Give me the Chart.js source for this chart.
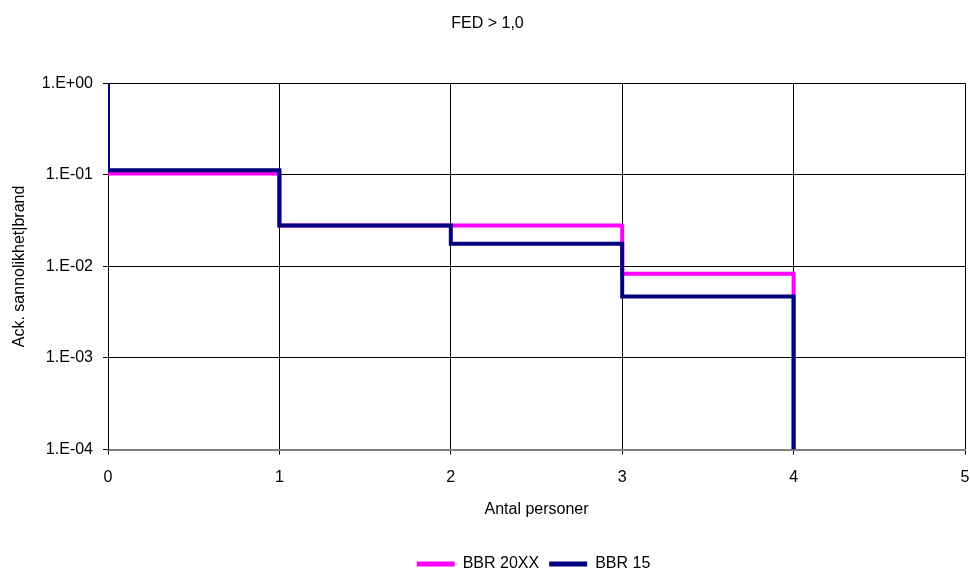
<!DOCTYPE html>
<html>
<head>
<meta charset="utf-8">
<script src="https://cdn.jsdelivr.net/npm/chart.js@4/dist/chart.umd.min.js"></script>
<style>
  html, body { margin: 0; padding: 0; background: #ffffff; }
  #wrap { width: 970px; height: 573px; }
</style>
</head>
<body>
<div id="wrap"><canvas id="c" width="970" height="573"></canvas></div>
<script>
// Persons at each step corner (stepped 'after': drop first, then run right)
const persons = [0, 1, 2, 3, 4, 4];
// Cumulative probability given fire, per rule set
const bbr20xx = [1, 0.103, 0.028, 0.028, 0.0083, 0.0001];
const bbr15   = [1, 0.112, 0.028, 0.0177, 0.0047, 0.0001];
const yTickValues = [1, 0.1, 0.01, 0.001, 0.0001];
const yTickLabels = ['1.E+00', '1.E-01', '1.E-02', '1.E-03', '1.E-04'];

const toPoints = (vals) => persons.map((p, i) => ({ x: p, y: vals[i] }));

const font = { family: '"Liberation Sans", Arial, sans-serif', size: 16 };

// Place the legend row under the middle of the plot area, near the bottom edge
const legendShift = {
  id: 'legendShift',
  afterLayout(chart) {
    const lg = chart.legend;
    const ca = chart.chartArea;
    if (!lg) return;
    const dy = 9;
    const dx = (ca.left + ca.right) / 2 - (lg.left + lg.right) / 2 - 3;
    lg.top += dy; lg.bottom += dy;
    lg.left += dx; lg.right += dx;
  }
};

new Chart(document.getElementById('c'), {
  type: 'line',
  plugins: [legendShift],
  data: {
    datasets: [
      {
        label: 'BBR 15',
        data: toPoints(bbr15),
        borderColor: '#000080',
        backgroundColor: '#000080',
        borderWidth: 4,
        stepped: 'after',
        pointRadius: 0,
        fill: false
      },
      {
        label: 'BBR 20XX',
        data: toPoints(bbr20xx),
        borderColor: '#ff00ff',
        backgroundColor: '#ff00ff',
        borderWidth: 4,
        stepped: 'after',
        pointRadius: 0,
        fill: false
      }
    ]
  },
  options: {
    responsive: false,
    animation: false,
    layout: { padding: { left: 10, right: 5, top: 0, bottom: 0 } },
    plugins: {
      tooltip: { enabled: false },
      title: {
        display: true,
        text: 'FED > 1,0',
        color: '#000',
        font: { ...font, weight: 'normal' },
        padding: { top: 14, bottom: 50 }
      },
      legend: {
        position: 'bottom',
        reverse: true,
        labels: {
          color: '#000',
          font: font,
          boxWidth: 38,
          boxHeight: 5,
          padding: 10,
          generateLabels: (chart) =>
            Chart.defaults.plugins.legend.labels.generateLabels(chart)
              .map(item => ({ ...item, lineWidth: 0 }))
        }
      }
    },
    scales: {
      x: {
        type: 'linear',
        min: 0,
        max: 5,
        afterFit: (scale) => { scale.paddingRight = 0; },
        ticks: { stepSize: 1, color: '#000', font: font, padding: 13 },
        grid: { color: '#000', lineWidth: 1, tickLength: 5, tickColor: '#000' },
        border: { color: '#808080', width: 2 },
        title: {
          display: true,
          text: 'Antal personer',
          color: '#000',
          font: font,
          padding: { top: 0, bottom: 18 }
        }
      },
      y: {
        type: 'logarithmic',
        min: 0.0001,
        max: 1,
        afterBuildTicks: (scale) => {
          scale.ticks = yTickValues.map(v => ({ value: v }));
        },
        afterFit: (scale) => { scale.width = 98; },
        ticks: {
          color: '#000',
          font: font,
          padding: 10,
          callback: (v) => {
            const i = yTickValues.findIndex(t => Math.abs(t - v) < t * 1e-6);
            return i >= 0 ? yTickLabels[i] : '';
          }
        },
        grid: { color: '#000', lineWidth: 1, tickLength: 5, tickColor: '#000' },
        border: { color: '#000', width: 1 },
        title: {
          display: true,
          text: 'Ack. sannolikhet|brand',
          color: '#000',
          font: font,
          padding: { top: 0, bottom: 4 }
        }
      }
    }
  }
});
</script>
</body>
</html>
